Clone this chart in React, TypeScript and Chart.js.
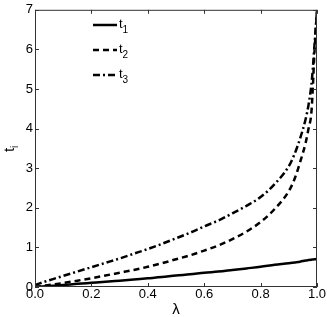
import React, { useEffect, useRef } from "react";
import { Chart, registerables } from "chart.js";
Chart.register(...registerables);

const lambdas = [0, 0.05, 0.1, 0.15, 0.2, 0.25, 0.3, 0.35, 0.4, 0.45, 0.5, 0.55, 0.6, 0.65, 0.7, 0.75, 0.8, 0.85, 0.9, 0.92, 0.94, 0.96, 0.97, 0.98, 0.985, 0.99, 0.995, 1.0];
const t1 = [0, 0.025, 0.05, 0.08, 0.105, 0.13, 0.16, 0.19, 0.22, 0.25, 0.29, 0.32, 0.36, 0.39, 0.43, 0.47, 0.51, 0.56, 0.6, 0.62, 0.64, 0.67, 0.68, 0.69, 0.695, 0.7, 0.7, 0.71];
const t2 = [0, 0.05, 0.1, 0.16, 0.22, 0.29, 0.36, 0.43, 0.51, 0.6, 0.7, 0.8, 0.92, 1.05, 1.21, 1.4, 1.64, 1.97, 2.42, 2.72, 3.15, 3.65, 4.0, 4.4, 5.0, 5.8, 6.4, 7.0];
const t3 = [0.05, 0.17, 0.28, 0.39, 0.5, 0.61, 0.72, 0.84, 0.96, 1.09, 1.23, 1.37, 1.53, 1.68, 1.86, 2.05, 2.27, 2.6, 3.05, 3.35, 3.75, 4.25, 4.6, 5.1, 5.5, 6.0, 6.5, 7.0];
const seriesNames = ["t", "t", "t"];
const seriesSubs = ["1", "2", "3"];
const xTicks = [0, 0.2, 0.4, 0.6, 0.8, 1.0];
const yTicks = [0, 1, 2, 3, 4, 5, 6, 7];
const xTitle = "λ";
const yTitle = "t";
const yTitleSub = "i";

const FONT = "'Liberation Sans', Arial, sans-serif";
const DASHES: number[][] = [[], [6, 4], [7, 3, 2, 3]];

export default function App() {
  const ref = useRef<HTMLCanvasElement>(null);
  useEffect(() => {
    document.body.style.margin = "0";
    const canvas = ref.current!;
    const framePlugin = {
      id: "frame",
      afterDraw(chart: any) {
        const { ctx, chartArea: a, scales } = chart;
        const xs = scales.x;
        const ys = scales.y;
        ctx.save();
        ctx.strokeStyle = "#333";
        ctx.lineWidth = 1;
        ctx.setLineDash([]);
        ctx.strokeRect(a.left + 0.5, a.top + 0.5, a.right - a.left - 1, a.bottom - a.top - 1);
        const tl = 4;
        ctx.beginPath();
        for (const v of xTicks) {
          const px = Math.round(xs.getPixelForValue(v)) + 0.5;
          ctx.moveTo(px, a.bottom);
          ctx.lineTo(px, a.bottom - tl);
          ctx.moveTo(px, a.top);
          ctx.lineTo(px, a.top + tl);
        }
        for (const v of yTicks) {
          const py = Math.round(ys.getPixelForValue(v)) + 0.5;
          ctx.moveTo(a.left, py);
          ctx.lineTo(a.left + tl, py);
          ctx.moveTo(a.right, py);
          ctx.lineTo(a.right - tl, py);
        }
        ctx.stroke();

        // legend
        ctx.fillStyle = "#000";
        ctx.strokeStyle = "#000";
        ctx.lineWidth = 2.5;
        const lx0 = 93, lx1 = 117;
        const rows = [25, 50, 75];
        for (let i = 0; i < 3; i++) {
          ctx.setLineDash(DASHES[i]);
          ctx.beginPath();
          ctx.moveTo(lx0, rows[i]);
          ctx.lineTo(lx1, rows[i]);
          ctx.stroke();
          ctx.setLineDash([]);
          ctx.font = `13px ${FONT}`;
          ctx.textBaseline = "alphabetic";
          ctx.textAlign = "left";
          ctx.fillText(seriesNames[i], 119, rows[i] + 3);
          const w = ctx.measureText(seriesNames[i]).width;
          ctx.font = `10px ${FONT}`;
          ctx.fillText(seriesSubs[i], 119 + w, rows[i] + 8);
        }

        // axis titles
        ctx.font = `15px ${FONT}`;
        ctx.textAlign = "center";
        ctx.textBaseline = "alphabetic";
        ctx.fillText(xTitle, (a.left + a.right) / 2, 314);
        ctx.save();
        ctx.translate(14, 148);
        ctx.rotate(-Math.PI / 2);
        ctx.textAlign = "left";
        ctx.font = `15px ${FONT}`;
        const tw = ctx.measureText(yTitle).width;
        ctx.fillText(yTitle, -tw / 2 - 2, 0);
        ctx.font = `10px ${FONT}`;
        ctx.fillText(yTitleSub, tw / 2 - 2, 4);
        ctx.restore();
        ctx.restore();
      },
    };

    const mk = (data: number[], i: number) => ({
      label: seriesNames[i] + seriesSubs[i],
      data: lambdas.map((x, k) => ({ x, y: data[k] })),
      borderColor: "#000",
      borderWidth: 2.5,
      borderDash: DASHES[i],
      pointRadius: 0,
      fill: false,
      cubicInterpolationMode: "monotone",
    });

    const chart = new Chart(canvas, {
      type: "line",
      data: { datasets: [mk(t1, 0), mk(t2, 1), mk(t3, 2)] },
      options: {
        animation: false,
        responsive: false,
        maintainAspectRatio: false,
        layout: { padding: { left: 0, right: 10, top: 5, bottom: 0 } },
        plugins: { legend: { display: false }, tooltip: { enabled: false } },
        scales: {
          x: {
            type: "linear",
            min: 0,
            max: 1,
            grid: { display: false, drawTicks: false },
            border: { display: false },
            afterBuildTicks: (s: any) => { s.ticks = xTicks.map((v) => ({ value: v })); },
            afterFit: (s: any) => { s.height = 30; },
            ticks: {
              color: "#000",
              font: { family: FONT, size: 13 },
              padding: 0,
              maxRotation: 0,
              autoSkip: false,
              callback: (v: any) => Number(v).toFixed(1),
            },
          },
          y: {
            type: "linear",
            min: 0,
            max: 7,
            grid: { display: false, drawTicks: false },
            border: { display: false },
            afterBuildTicks: (s: any) => { s.ticks = yTicks.map((v) => ({ value: v })); },
            afterFit: (s: any) => { s.width = 35; },
            ticks: {
              color: "#000",
              font: { family: FONT, size: 13 },
              padding: 2,
              autoSkip: false,
              callback: (v: any) => String(v),
            },
          },
        },
      },
      plugins: [framePlugin],
    } as any);
    return () => chart.destroy();
  }, []);
  return <canvas ref={ref} width={327} height={317} style={{ display: "block" }} />;
}
